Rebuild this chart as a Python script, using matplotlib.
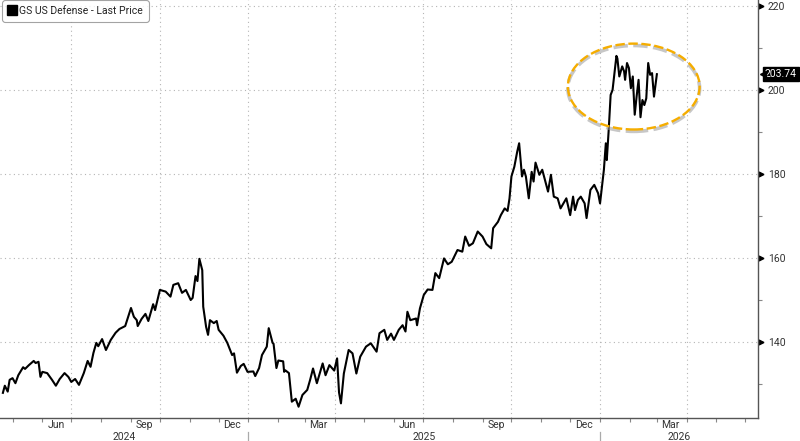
import matplotlib
matplotlib.use("Agg")
import matplotlib.pyplot as plt
import matplotlib.dates as mdates
import matplotlib.transforms as mtransforms
from matplotlib.lines import Line2D
from matplotlib.patches import Ellipse
import numpy as np
import pandas as pd

plt.rcParams["font.family"] = ["Roboto", "DejaVu Sans"]

# ---------------------------------------------------------------------------
# Data
# ---------------------------------------------------------------------------
series_name = "GS US Defense - Last Price"

dates = [
    "2024-04-21", "2024-04-23", "2024-04-26", "2024-04-28", "2024-05-01", "2024-05-04",
    "2024-05-07", "2024-05-12", "2024-05-14", "2024-05-18", "2024-05-23", "2024-05-25",
    "2024-05-28", "2024-05-30", "2024-06-01", "2024-06-06", "2024-06-11", "2024-06-15",
    "2024-06-19", "2024-06-24", "2024-06-28", "2024-07-01", "2024-07-05", "2024-07-09",
    "2024-07-14", "2024-07-18", "2024-07-21", "2024-07-24", "2024-07-27", "2024-07-29",
    "2024-08-02", "2024-08-06", "2024-08-11", "2024-08-16", "2024-08-20", "2024-08-26",
    "2024-09-01", "2024-09-04", "2024-09-07", "2024-09-08", "2024-09-12", "2024-09-16",
    "2024-09-19", "2024-09-24", "2024-09-26", "2024-10-01", "2024-10-07", "2024-10-12",
    "2024-10-15", "2024-10-20", "2024-10-24", "2024-10-28", "2024-11-02", "2024-11-04",
    "2024-11-07", "2024-11-09", "2024-11-11", "2024-11-14", "2024-11-15", "2024-11-18",
    "2024-11-20", "2024-11-22", "2024-11-26", "2024-11-29", "2024-12-01", "2024-12-06",
    "2024-12-10", "2024-12-15", "2024-12-17", "2024-12-20", "2024-12-24", "2024-12-27",
    "2024-12-31", "2025-01-06", "2025-01-08", "2025-01-12", "2025-01-15", "2025-01-20",
    "2025-01-22", "2025-01-26", "2025-01-27", "2025-01-30", "2025-02-01", "2025-02-06",
    "2025-02-07", "2025-02-08", "2025-02-12", "2025-02-15", "2025-02-19", "2025-02-22",
    "2025-02-26", "2025-03-03", "2025-03-06", "2025-03-09", "2025-03-13", "2025-03-19",
    "2025-03-22", "2025-03-26", "2025-03-31", "2025-04-03", "2025-04-05", "2025-04-07",
    "2025-04-10", "2025-04-15", "2025-04-19", "2025-04-23", "2025-04-27", "2025-05-03",
    "2025-05-08", "2025-05-14", "2025-05-17", "2025-05-22", "2025-05-25", "2025-05-29",
    "2025-06-01", "2025-06-06", "2025-06-10", "2025-06-13", "2025-06-15", "2025-06-18",
    "2025-06-24", "2025-06-25", "2025-06-28", "2025-07-02", "2025-07-06", "2025-07-11",
    "2025-07-14", "2025-07-18", "2025-07-23", "2025-07-27", "2025-07-31", "2025-08-06",
    "2025-08-11", "2025-08-14", "2025-08-18", "2025-08-22", "2025-08-27", "2025-09-01",
    "2025-09-05", "2025-09-10", "2025-09-12", "2025-09-17", "2025-09-20", "2025-09-24",
    "2025-09-27", "2025-09-29", "2025-10-01", "2025-10-04", "2025-10-07", "2025-10-09",
    "2025-10-12", "2025-10-14", "2025-10-16", "2025-10-19", "2025-10-22", "2025-10-24",
    "2025-10-26", "2025-10-30", "2025-11-02", "2025-11-08", "2025-11-11", "2025-11-14",
    "2025-11-18", "2025-11-21", "2025-11-27", "2025-12-01", "2025-12-04", "2025-12-06",
    "2025-12-09", "2025-12-12", "2025-12-16", "2025-12-18", "2025-12-22", "2025-12-26",
    "2025-12-30", "2026-01-01", "2026-01-05", "2026-01-07", "2026-01-08", "2026-01-10",
    "2026-01-12", "2026-01-14", "2026-01-16", "2026-01-18", "2026-01-19", "2026-01-21",
    "2026-01-24", "2026-01-26", "2026-01-27", "2026-01-29", "2026-01-31", "2026-02-02",
    "2026-02-04", "2026-02-06", "2026-02-08", "2026-02-10", "2026-02-12", "2026-02-14",
    "2026-02-16", "2026-02-18", "2026-02-20", "2026-02-22", "2026-02-24", "2026-02-26",
    "2026-03-01",
]

prices = [
    127.9, 129.6, 128.2, 131.0, 131.4, 130.2,
    132.1, 134.0, 133.6, 134.5, 135.5, 135.0,
    135.3, 131.7, 132.9, 132.6, 131.0, 129.6,
    131.2, 132.6, 131.7, 130.5, 131.2, 129.8,
    132.6, 135.5, 134.1, 137.4, 139.8, 139.0,
    140.7, 138.1, 140.5, 142.2, 143.1, 143.8,
    148.1, 146.0, 145.2, 143.8, 145.5, 146.7,
    145.0, 149.0, 147.6, 152.4, 152.0, 150.8,
    153.6, 154.0, 151.7, 152.4, 150.0, 150.5,
    155.7, 154.5, 159.8, 157.1, 148.4, 143.6,
    141.7, 145.2, 144.5, 145.0, 142.9, 141.5,
    139.8, 136.9, 137.3, 132.7, 134.3, 134.8,
    132.9, 133.0, 131.9, 133.8, 136.9, 138.9,
    143.3, 139.8, 139.6, 133.8, 135.6, 135.4,
    132.9, 133.3, 132.6, 125.8, 126.5, 124.6,
    127.4, 128.6, 131.0, 133.7, 130.2, 134.9,
    132.1, 134.5, 133.2, 136.1, 128.0, 125.4,
    132.5, 138.1, 137.3, 132.5, 136.5, 138.9,
    139.7, 137.7, 142.1, 142.9, 140.5, 142.0,
    140.5, 142.9, 144.0, 142.5, 147.2, 145.2,
    145.6, 144.0, 148.0, 151.2, 152.5, 152.4,
    156.4, 155.2, 159.9, 158.5, 159.1, 161.9,
    161.5, 165.1, 162.9, 163.5, 166.3, 165.1,
    163.3, 162.3, 167.1, 168.6, 170.2, 171.8,
    171.2, 174.2, 179.4, 181.7, 185.3, 187.3,
    179.4, 181.0, 179.4, 174.2, 180.5, 178.2,
    182.7, 179.8, 181.0, 175.8, 179.8, 174.6,
    174.2, 171.8, 174.2, 170.2, 174.6, 171.4,
    173.8, 174.6, 173.0, 169.5, 176.2, 177.4,
    175.4, 173.0, 181.0, 187.3, 183.3, 190.5,
    198.8, 200.0, 204.0, 208.1, 207.5, 203.2,
    205.6, 204.4, 202.4, 206.4, 205.2, 200.4,
    203.2, 194.1, 198.5, 202.4, 193.5, 197.6,
    196.4, 198.0, 206.4, 203.6, 204.0, 198.4,
    203.74,
]

y_major = [140, 160, 180, 200, 220]
y_minor = [130, 150, 170, 190, 210]
month_labels = {3: "Mar", 6: "Jun", 9: "Sep", 12: "Dec"}
highlight_start = "2026-01-12"

x_start = pd.Timestamp("2024-04-18")
x_end = pd.Timestamp("2026-06-14")
y_range = (121.9, 221.4)

AXIS_GREY = "#555555"
TEXT_GREY = "#333333"
GRID = dict(color="#b5b5b5", linewidth=0.8, linestyle=(0, (1, 3)))

# ---------------------------------------------------------------------------
# Figure
# ---------------------------------------------------------------------------
dt = pd.to_datetime(dates)
px = np.array(prices)

fig = plt.figure(figsize=(8.0, 4.41), dpi=100)
ax = fig.add_axes([0.0, 0.052, 0.9475, 0.948])

ax.set_xlim(x_start, x_end)
ax.set_ylim(*y_range)

# grid: horizontal at major ticks, vertical at quarter starts
for v in y_major:
    ax.axhline(v, zorder=0, **GRID)
quarters = pd.date_range("2024-01-01", x_end, freq="QS")
for q in quarters:
    if q > x_start:
        ax.axvline(q, zorder=0, **GRID)

ax.plot(dt, px, color="black", linewidth=1.5, zorder=3)

# spines
for side in ("left", "top"):
    ax.spines[side].set_visible(False)
for side in ("bottom", "right"):
    ax.spines[side].set_color(AXIS_GREY)
    ax.spines[side].set_linewidth(1.0)

# y axis on the right
ax.yaxis.tick_right()
ax.set_yticks(y_major)
ax.set_yticklabels([str(v) for v in y_major])
ax.set_yticks(y_minor, minor=True)
ax.tick_params(axis="y", which="major", length=0, pad=7, labelsize=7.5, labelcolor=TEXT_GREY)
ax.tick_params(axis="y", which="minor", length=3, width=0.8, color="#888888")
ytrans = mtransforms.blended_transform_factory(ax.transAxes, ax.transData)
ax.plot([1.004] * len(y_major), y_major, marker=">", markersize=3.5, linestyle="none",
        color="black", transform=ytrans, clip_on=False)

# x axis: month ticks, quarter-month labels, years underneath
month_starts = pd.date_range("2024-05-01", x_end, freq="MS")
ax.set_xticks(month_starts)
ax.set_xticklabels([])
ax.tick_params(axis="x", which="major", length=3, width=0.8, color="#888888")

xtrans = mtransforms.blended_transform_factory(ax.transData, ax.transAxes)
for m in month_starts:
    mid = m + pd.Timedelta(days=14)
    if m.month in month_labels and mid + pd.Timedelta(days=15) < x_end:
        ax.text(mid, -0.017, month_labels[m.month], transform=xtrans, ha="center",
                va="center", fontsize=7.5, color=TEXT_GREY)

for year in (2024, 2025, 2026):
    y0 = max(pd.Timestamp(f"{year}-01-01"), x_start)
    y1 = min(pd.Timestamp(f"{year + 1}-01-01"), x_end)
    mid = y0 + (y1 - y0) / 2
    ax.text(mid, -0.046, str(year), transform=xtrans, ha="center", va="center",
            fontsize=7.5, color=TEXT_GREY)
    if pd.Timestamp(f"{year}-01-01") > x_start:
        ax.plot([pd.Timestamp(f"{year}-01-01")] * 2, [-0.033, -0.06], transform=xtrans,
                color="#aaaaaa", linewidth=0.9, clip_on=False)

# last price tag
ax.annotate(f"{prices[-1]:.2f}", xy=(1.0, prices[-1]), xycoords=ytrans,
            xytext=(5, 0), textcoords="offset points", ha="left", va="center",
            fontsize=7.5, color="white",
            bbox=dict(boxstyle="square,pad=0.2", fc="black", ec="black"))
ax.plot([1.007], [prices[-1]], marker="<", markersize=5, color="black",
        transform=ytrans, clip_on=False, zorder=5)

# highlight ellipse around the latest run-up
sel = dt >= pd.Timestamp(highlight_start)
t0, t1 = mdates.date2num(dt[sel].min()), mdates.date2num(dt[sel].max())
cx_num = (t0 + t1) / 2
cy = (px[sel].min() + px[sel].max()) / 2
ew = (t1 - t0) * 2.85
eh = (px[sel].max() - px[sel].min()) * 1.40
shadow = Ellipse((cx_num, cy - 0.45), ew, eh, fill=False, edgecolor="#9a9a9a",
                 linewidth=2.6, alpha=0.55, linestyle=(0, (4, 1.5)), zorder=4)
ring = Ellipse((cx_num, cy), ew, eh, fill=False, edgecolor="#f5ad00",
               linewidth=1.7, linestyle=(0, (4, 1.5)), zorder=5)
ax.add_patch(shadow)
ax.add_patch(ring)

# legend
handle = Line2D([], [], marker="s", markersize=7, color="black", linestyle="none")
leg = ax.legend([handle], [series_name], loc="upper left", bbox_to_anchor=(0.004, 0.997),
                fontsize=7.5, frameon=True, fancybox=True, handlelength=0.8,
                handletextpad=0.3, borderpad=0.45, borderaxespad=0.0)
leg.get_frame().set_edgecolor("#8c8c8c")
leg.get_frame().set_linewidth(0.8)
leg.get_frame().set_boxstyle("round,pad=0.1,rounding_size=0.3")
for t in leg.get_texts():
    t.set_color("#222222")

fig.savefig("out.png", dpi=100, facecolor="white")
